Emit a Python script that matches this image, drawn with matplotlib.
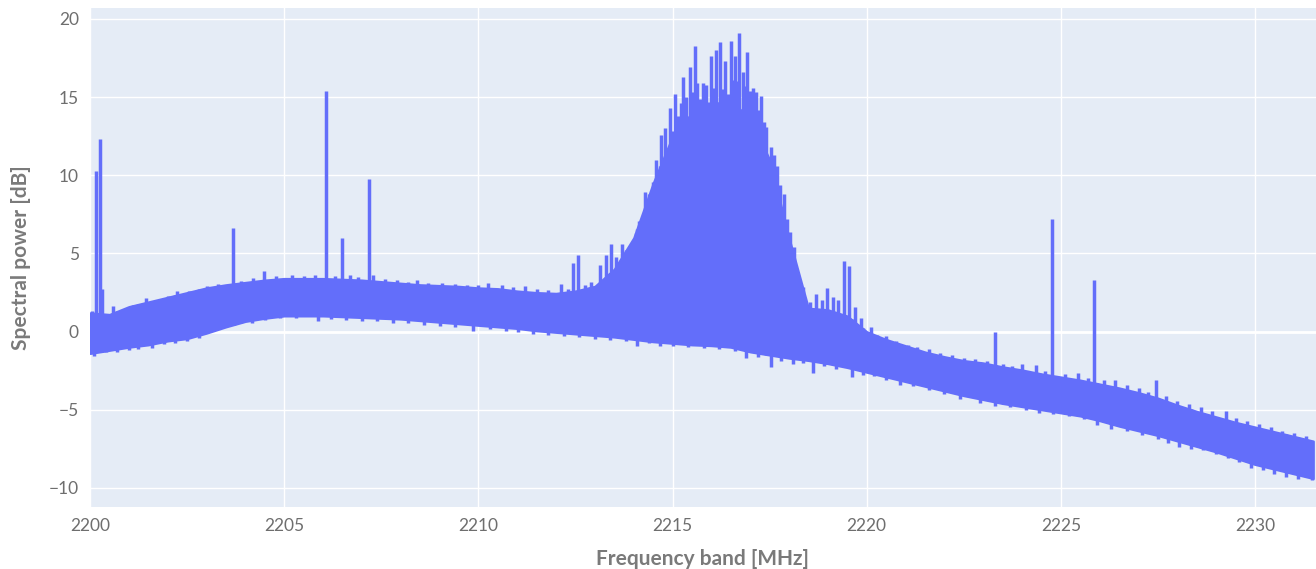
import numpy as np
import matplotlib
matplotlib.use("Agg")
import matplotlib.pyplot as plt

# band envelope of the noisy spectrum, read every 0.5 MHz
env_freq = np.arange(2200.0, 2231.75, 0.5)
env_upper = [1.2, 1.1, 1.6, 1.9, 2.2, 2.5, 2.8, 3.0, 3.15, 3.3, 3.4, 3.4,
             3.4, 3.35, 3.3, 3.2, 3.1, 3.0, 2.95, 2.9, 2.8, 2.75, 2.6, 2.5,
             2.45, 2.6, 2.9, 4.0, 6.0, 9.5, 12.5, 14.0, 14.6, 14.7, 13.7, 11.0,
             6.0, 1.5, 1.4, 1.0, 0.0, -0.5, -0.9, -1.3, -1.6, -1.85, -2.0, -2.25,
             -2.45, -2.7, -2.9, -3.1, -3.35, -3.6, -3.9, -4.25, -4.7, -5.1, -5.45, -5.8,
             -6.1, -6.4, -6.7, -7.0]
env_lower = [-1.4, -1.2, -1.0, -0.85, -0.6, -0.45, -0.1, 0.3, 0.65, 0.85, 1.0, 1.0,
             1.0, 0.95, 0.9, 0.85, 0.8, 0.7, 0.6, 0.5, 0.4, 0.3, 0.2, 0.05,
             -0.05, -0.15, -0.25, -0.35, -0.5, -0.65, -0.75, -0.85, -0.9, -1.0, -1.3, -1.5,
             -1.7, -1.85, -2.05, -2.3, -2.6, -2.9, -3.2, -3.5, -3.8, -4.1, -4.35, -4.6,
             -4.8, -5.0, -5.2, -5.4, -5.7, -6.05, -6.35, -6.65, -7.0, -7.35, -7.7, -8.1,
             -8.5, -8.8, -9.1, -9.4]

# spectral lines / spikes (frequency, peak)
spike_freq = [2200.16, 2200.25, 2200.30, 2203.69, 2204.48, 2206.08, 2206.50, 2207.19,
              2212.44, 2212.57, 2213.14, 2213.29, 2213.41, 2213.54, 2213.70, 2213.85, 2213.97,
              2214.06, 2214.14, 2214.22, 2214.29, 2214.38, 2214.50, 2214.58, 2214.65, 2214.71,
              2214.81, 2214.93, 2215.00, 2215.06, 2215.15, 2215.21, 2215.27, 2215.35, 2215.44,
              2215.50, 2215.57, 2215.64, 2215.71, 2215.78, 2215.87, 2215.94, 2216.00, 2216.06,
              2216.12, 2216.22, 2216.29, 2216.35, 2216.43, 2216.50, 2216.56, 2216.62, 2216.67,
              2216.72, 2216.82, 2216.88, 2216.93, 2217.00, 2217.06, 2217.15, 2217.22, 2217.28,
              2217.35, 2217.42, 2217.53, 2217.61, 2217.69, 2217.78, 2217.86, 2217.94, 2218.02,
              2218.12, 2218.30, 2218.40, 2218.85, 2218.98, 2219.13, 2219.42, 2219.55,
              2223.31, 2224.76, 2225.86, 2227.46]
spike_peak = [10.3, 12.35, 2.7, 6.6, 3.85, 15.4, 6.0, 9.75,
              4.4, 4.9, 4.25, 4.9, 5.6, 4.8, 5.6, 5.0, 5.5,
              6.3, 7.1, 6.5, 8.9, 7.9, 9.6, 11.0, 10.2, 12.6,
              13.0, 14.3, 12.8, 15.2, 13.8, 14.6, 16.3, 15.0, 16.9,
              15.3, 18.3, 15.9, 14.9, 15.9, 15.8, 14.7, 17.6, 15.6,
              18.0, 18.5, 15.5, 17.3, 15.2, 18.6, 16.1, 17.6, 16.0,
              19.1, 16.6, 15.7, 17.9, 15.4, 15.6, 15.3, 14.2, 15.1,
              13.4, 13.1, 11.8, 11.3, 10.6, 9.4, 8.8, 7.2, 6.4,
              5.4, 1.9, 1.6, 2.0, 2.8, 2.2, 4.5, 4.2,
              0.0, 7.2, 3.3, -3.1]

# small noise teeth above the band
tooth_freq = [2200.05, 2200.58, 2200.85, 2201.10, 2201.44, 2201.70, 2202.00, 2202.25, 2202.55,
              2202.80, 2203.00, 2203.30, 2203.90, 2204.20, 2204.80, 2205.20, 2205.50, 2205.80,
              2206.30, 2206.70, 2206.90, 2207.30, 2207.60, 2207.90, 2208.20, 2208.41, 2208.70,
              2209.06, 2209.40, 2209.70, 2210.00, 2210.26, 2210.60, 2210.90, 2211.20, 2211.50,
              2211.80, 2212.13, 2212.30, 2212.75, 2212.90, 2218.20, 2218.55, 2218.70, 2219.25,
              2219.70, 2219.85, 2220.10, 2220.26, 2220.50, 2220.75, 2221.07, 2221.30, 2221.60,
              2221.90, 2222.20, 2222.50, 2222.80, 2223.10, 2223.50, 2223.75, 2223.99, 2224.36,
              2224.60, 2225.10, 2225.44, 2225.70, 2226.10, 2226.40, 2226.70, 2227.00, 2227.25,
              2227.70, 2228.00, 2228.30, 2228.60, 2228.90, 2229.26, 2229.50, 2229.80, 2230.10,
              2230.40, 2230.70, 2231.00, 2231.30]
tooth_top = [1.3, 1.66, 1.3, 1.7, 2.13, 2.0, 2.3, 2.6, 2.6,
             2.7, 2.94, 3.05, 3.25, 3.4, 3.55, 3.6, 3.55, 3.65,
             3.55, 3.6, 3.5, 3.6, 3.35, 3.3, 3.2, 3.3, 3.1,
             3.13, 3.05, 3.0, 2.95, 3.13, 2.95, 2.85, 2.94, 2.75,
             2.65, 3.05, 2.7, 3.0, 3.2, 2.3, 1.9, 2.4, 2.0,
             1.6, 0.9, 0.3, -0.24, -0.3, -0.6, -0.87, -1.0, -1.1,
             -1.4, -1.5, -1.7, -1.75, -1.9, -2.1, -2.2, -2.09, -2.13,
             -2.5, -2.7, -2.62, -3.0, -3.1, -3.09, -3.4, -3.6, -3.85,
             -4.1, -4.45, -4.6, -4.85, -5.1, -5.1, -5.5, -5.75, -5.9,
             -6.1, -6.35, -6.5, -6.7]

# small dips below the band
dip_freq = [2200.10, 2200.40, 2200.70, 2201.00, 2201.24, 2201.60, 2201.90, 2202.19, 2202.50,
            2202.80, 2203.16, 2203.40, 2203.70, 2204.16, 2204.50, 2204.90, 2205.30, 2205.88,
            2206.20, 2206.60, 2207.00, 2207.40, 2207.80, 2208.20, 2208.60, 2209.00, 2209.40,
            2209.87, 2210.30, 2210.70, 2211.03, 2211.40, 2211.80, 2212.20, 2212.60, 2213.00,
            2213.40, 2213.80, 2214.08, 2214.40, 2214.68, 2215.00, 2215.40, 2215.80, 2216.20,
            2216.60, 2216.90, 2217.20, 2217.53, 2217.80, 2218.10, 2218.35, 2218.63, 2218.90,
            2219.20, 2219.61, 2219.90, 2220.20, 2220.50, 2220.86, 2221.20, 2221.60, 2222.00,
            2222.40, 2222.92, 2223.30, 2223.70, 2224.10, 2224.45, 2224.80, 2225.20, 2225.60,
            2225.93, 2226.30, 2226.70, 2227.10, 2227.50, 2227.75, 2228.05, 2228.35, 2228.67,
            2229.00, 2229.30, 2229.60, 2229.90, 2230.20, 2230.50, 2230.80, 2231.10, 2231.46]
dip_bottom = [-1.55, -1.3, -1.3, -1.15, -1.1, -1.05, -0.8, -0.75, -0.6,
              -0.4, 0.02, 0.35, 0.45, 0.53, 0.75, 0.85, 0.85, 0.7,
              0.8, 0.75, 0.7, 0.7, 0.55, 0.55, 0.45, 0.35, 0.3,
              0.06, 0.15, 0.05, -0.04, -0.15, -0.2, -0.25, -0.35, -0.45,
              -0.55, -0.6, -0.9, -0.75, -0.9, -0.95, -1.0, -1.05, -1.1,
              -1.25, -1.7, -1.6, -2.28, -1.9, -2.1, -2.0, -2.62, -2.2,
              -2.4, -2.88, -2.8, -2.85, -3.1, -3.41, -3.45, -3.75, -4.0,
              -4.3, -4.54, -4.75, -4.85, -5.0, -5.18, -5.25, -5.4, -5.6,
              -5.97, -6.2, -6.35, -6.6, -6.85, -7.1, -7.4, -7.5, -7.57,
              -7.85, -8.1, -8.35, -8.7, -8.85, -9.1, -9.3, -9.4, -9.49]

x_ticks = [2200, 2205, 2210, 2215, 2220, 2225, 2230]
y_ticks = [-10, -5, 0, 5, 10, 15, 20]

blue = "#636efa"
plt.rcParams["font.family"] = ["Lato", "DejaVu Sans"]

fig = plt.figure(figsize=(13.16, 5.69), dpi=100)
ax = fig.add_axes([90 / 1316, 62 / 569, 1226 / 1316, 499 / 569])
ax.set_facecolor("#e5ecf6")

ax.fill_between(env_freq, env_lower, env_upper, color=blue, lw=1.5, edgecolor=blue)

lw = 2.5
ax.vlines(spike_freq, np.interp(spike_freq, env_freq, env_lower), spike_peak, color=blue, lw=lw)
ax.vlines(tooth_freq, np.interp(tooth_freq, env_freq, env_lower), tooth_top, color=blue, lw=lw)
ax.vlines(dip_freq, dip_bottom, np.interp(dip_freq, env_freq, env_upper), color=blue, lw=lw)

ax.set_xlim(2200, 2231.57)
ax.set_ylim(-11.22, 20.7)
ax.set_xticks(x_ticks)
ax.set_yticks(y_ticks)
ax.grid(True, color="white", lw=1.0)
ax.axhline(0, color="white", lw=2.0, zorder=0.6)
ax.set_axisbelow(True)
for s in ax.spines.values():
    s.set_visible(False)
ax.tick_params(length=0, labelsize=12.5, labelcolor="#6e6e6e", pad=8)

ax.set_xlabel("Frequency band [MHz]", fontsize=15, fontweight="bold", color="#7a7a7a", labelpad=11)
ax.set_ylabel("Spectral power [dB]", fontsize=15, fontweight="bold", color="#7a7a7a", labelpad=13)

fig.savefig("out.png", dpi=100)
